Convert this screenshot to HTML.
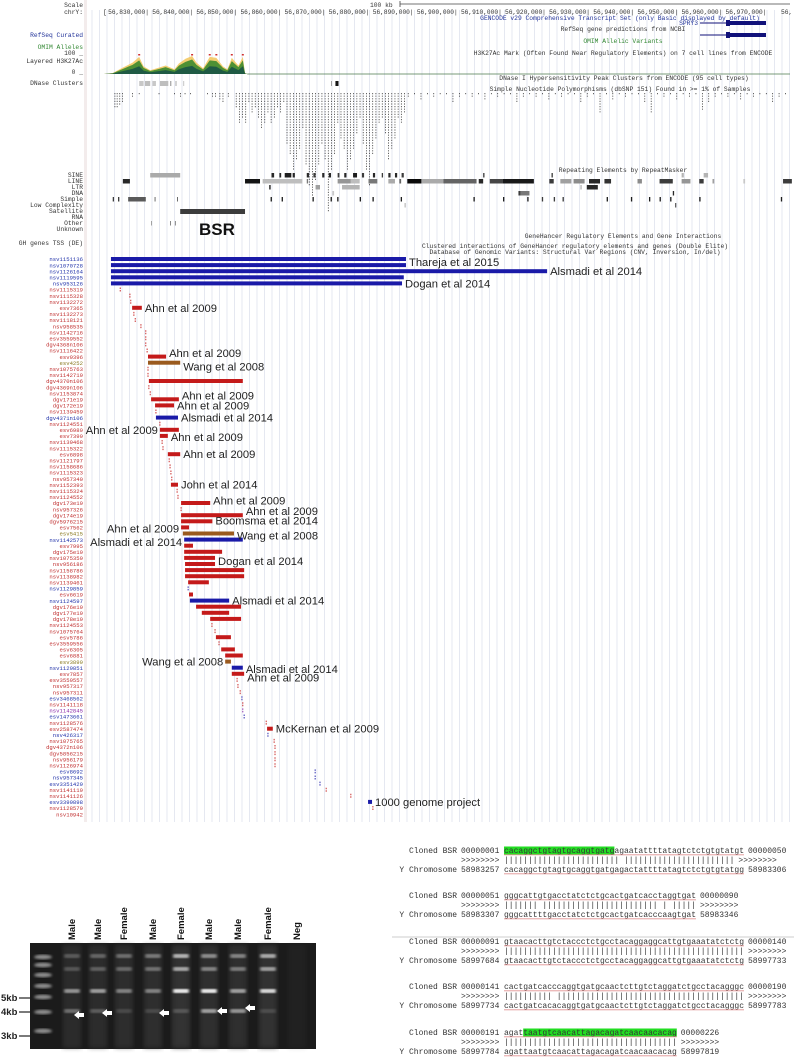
<!DOCTYPE html>
<html><head><meta charset="utf-8"><style>
html,body{margin:0;padding:0;background:#fff;}
svg{display:block;}
.m{font-family:"Liberation Mono",monospace;}
.s{font-family:"Liberation Sans",sans-serif;}
</style></head><body>
<svg id="fig" width="794" height="1059" viewBox="0 0 794 1059" xmlns="http://www.w3.org/2000/svg">
<g id="grid"></g>
<g id="top"></g>
<g id="sv"></g>
<g id="gel"></g>
<g id="aln"></g>
</svg>
<script>
// ---------- data ----------
const rulerTicks = ["56,830,000","56,840,000","56,850,000","56,860,000","56,870,000","56,880,000","56,890,000","56,900,000","56,910,000","56,920,000","56,930,000","56,940,000","56,950,000","56,960,000","56,970,000"];
const svNames = ["nsv1151136","nsv1070728","nsv1126164","nsv1119595","nsv953126","nsv1115319","nsv1115328","nsv1132272","esv7365","nsv1132273","nsv1118121","nsv958535","nsv1142716","esv3559552","dgv4368n106","nsv1116422","esv9396","esv4252","nsv1075763","nsv1142719","dgv4370n106","dgv4369n106","nsv1153874","dgv171e19","dgv172e19","nsv1139459","dgv4371n106","nsv1124551","esv6989","esv7399","nsv1139468","nsv1115322","esv6898","nsv1121797","nsv1158686","nsv1115323","nsv957340","nsv1152393","nsv1115324","nsv1124552","dgv173e19","nsv957326","dgv174e19","dgv5976215","esv7562","esv5415","nsv1142573","esv7995","dgv175e19","nsv1075359","nsv956186","nsv1158786","nsv1138982","nsv1139461","nsv1129859","esv6619","nsv1124597","dgv176e19","dgv177e19","dgv178e19","nsv1124553","nsv1075764","esv5786","esv3559556","esv6305","esv6881","esv3899","nsv1129851","esv7857","esv3559557","nsv957317","nsv957311","esv3468562","nsv1141118","nsv1142845","esv1473661","nsv1128576","esv2587474","nsv426317","nsv1075765","dgv4372n106","dgv5856215","nsv956179","nsv1126974","esv8692","nsv957345","esv3351429","nsv1141119","nsv1141126","esv3399898","nsv1128579","nsv10942"];
const svType = "bbbbbrrrrrrrrrrrrorrrrrrrrbrrrrrrrrrrrrrrrrrrobrrrrrrrbrbrrrrrrrrrobrrrrbrpbrrbrrrrrbbbrrbrr";
const svStart = [21.6,21.6,21.6,21.6,21.6,23.7,25.9,26.1,26.4,26.8,27.1,28.4,29.5,29.5,29.5,29.8,30,30,30,30,30.2,30.2,30.5,30.7,31.6,31.8,31.8,32.7,32.7,32.7,33.2,33.4,34.5,34.8,35.0,35.2,35.4,35.2,36.6,36.8,37.5,37.5,37.5,37.5,37.5,37.9,38.2,38.2,38.2,38.2,38.4,38.4,38.4,39.1,39.1,39.3,39.5,40.9,42.2,44.1,44.5,45.2,45.4,46.1,46.6,47.5,47.5,49.0,49.0,50.2,50.4,50.9,51.3,51.5,51.5,51.8,56.8,57.0,57.2,58.6,58.8,58.8,58.8,58.8,67.9,67.9,69.0,70.4,76.0,79.9,81.0,-1];
const svEnd   = [88.5,88.5,120.5,88.0,87.6,23.7,25.9,26.1,28.6,26.8,27.1,28.4,29.5,29.5,29.5,29.8,34.1,37.3,30,30,51.5,30.2,30.5,37.0,35.9,31.8,36.8,32.7,37.0,34.5,33.2,33.4,37.3,34.8,35.0,35.2,35.4,36.8,36.6,36.8,44.1,37.5,51.5,44.6,39.3,49.5,51.5,40.2,46.8,45.2,45.2,51.8,51.8,43.8,39.1,40.2,48.4,51.1,48.4,51.1,44.5,45.2,48.8,46.1,49.7,51.5,48.8,51.5,51.8,50.2,50.4,50.9,51.3,51.5,51.5,51.8,56.8,58.3,57.2,58.6,58.8,58.8,58.8,58.8,67.9,67.9,69.0,70.4,76.0,80.8,81.0,-1];
const studyText = ["Thareja et al 2015","Alsmadi et al 2014","Dogan et al 2014","Ahn et al 2009","Ahn et al 2009","Wang et al 2008","Ahn et al 2009","Ahn et al 2009","Alsmadi et al 2014","Ahn et al 2009","Ahn et al 2009","Ahn et al 2009","John et al 2014","Ahn et al 2009","Ahn et al 2009","Boomsma et al 2014","Ahn et al 2009","Wang et al 2008","Alsmadi et al 2014","Dogan et al 2014","Alsmadi et al 2014","Wang et al 2008","Alsmadi et al 2014","Ahn et al 2009","McKernan et al 2009","1000 genome project"];
const studyRow       = [0.5,2,4,8,15.4,17.6,22.4,24,26,28,29.2,32,37,39.6,41.3,42.9,44.2,45.3,46.4,49.5,56,66,67.2,68.6,77,89];
const studyAnchorRow = [0,2,4,8,16,17,23,24,26,28,29,32,37,40,42,43,44,45,46,49,56,66,67,68,77,89];
const studySide = "rrrrrrrrrlrrrrrrlrlrrlrrrr";
const peakKb  = [22,24,26.5,28,29,30.5,32,34,36,37,38.5,40,41,42.5,44,45.5,47,48,49,50.5,51.5,52];
const peakVal = [5,30,60,90,40,20,30,45,25,55,80,95,60,30,90,85,40,25,85,45,90,5];
const snpSparseKb = [22.5,23,23.6,24.2,26.5,28,32.5,36,37.4,38.4,39.6,43.5,44.6,45.3,46.3,47,48.2];
const snpSparseDepth = [6,6,5,4,2,1,1,1,2,1,1,1,2,2,3,4,2];
const snpDenseDepth = [6,12,10,12,4,8,6,10,14,12,8,12,10,6,8,4,20,24,30,26,22,14,28,36,40,34,28,20,26,46,30,24,12,18,22,30,26,22,16,10,20,30,36,24,18,12,10,16,26,22,18,10,12,8];
const repeatRows = ["SINE","LINE","LTR","DNA","Simple","Low Complexity","Satellite","RNA","Other","Unknown"];
const repeats = [[0,30.5,37.3,170],[0,58,58.6,40],[0,59.8,60.2,40],[0,61,62.5,30],[0,62.8,63.3,40],[0,66,66.5,40],[0,67.5,68,60],[0,69.5,70,40],[0,71,71.5,40],[0,73,73.4,60],[0,74.5,75,40],[0,76.5,77.4,30],[0,78.5,79,60],[0,81,81.5,40],[0,83,83.3,60],[0,84.5,85,40],[0,86,86.5,40],[0,87.5,88,60],[0,106,106.3,60],[0,121.5,121.8,60],[0,151,151.5,180],[0,156,157,180],
[1,24.3,25.9,40],[1,52,55.4,20],[1,56,65,190],[1,66,66.3,120],[1,73,76,150],[1,76,78,190],[1,80,82,120],[1,84.5,86,170],[1,87,87.4,100],[1,88.8,92,10],[1,92,97,170],[1,97,104.5,100],[1,105,106,40],[1,107.5,110.5,70],[1,110.5,117.5,25],[1,121,122,60],[1,123.5,126,160],[1,126.5,129,140],[1,130,132.5,40],[1,133.5,135,50],[1,141,142,140],[1,146,149,60],[1,151,153,150],[1,155,156,60],[1,158,158.4,160],[1,165,165.4,200],[1,174,176,60],
[2,57.5,57.8,20],[2,68,69,160],[2,74,78,180],[2,129.5,132,40],[2,128,128.4,200],
[3,71.8,72.2,200],[3,114,114.5,60],[3,114.5,116.5,120],[3,149,149.3,40],
[4,22,22.3,60],[4,23.2,23.5,60],[4,25.5,29.5,90],[4,31.5,31.7,90],[4,36.6,36.8,90],[4,57.8,58.1,30],[4,60.3,60.6,30],[4,67.3,67.6,30],[4,71.4,71.7,30],[4,72.9,73.2,30],[4,78,78.3,30],[4,80.9,81.2,30],[4,87.3,87.6,30],[4,103.8,104.1,30],[4,110.5,110.8,30],[4,116,116.3,30],[4,119.3,119.6,60],[4,122,122.3,60],[4,124,124.3,60],[4,134,134.3,30],[4,139.5,139.8,30],[4,143.6,143.9,30],[4,146,146.3,30],[4,148.4,148.7,30],[4,155,155.3,30],[4,173.5,173.8,30],
[5,88.2,88.4,160],[5,149.5,149.8,100],
[6,37.3,52,60],
[8,30.7,30.9,150],[8,35,35.2,120],[8,36.1,36.3,120]];

// ---------- helpers ----------
const NS="http://www.w3.org/2000/svg";
function X(kb){return 148+(kb-30)*4.41;}
const ROW0=259, ROWH=6.1;
function Y(r){return ROW0+r*ROWH;}
function mk(parent,tag,attrs,text){const e=document.createElementNS(NS,tag);for(const k in attrs)e.setAttribute(k,attrs[k]);if(text!==undefined)e.textContent=text;document.getElementById(parent).appendChild(e);return e;}

// ---------- grid ----------
for(let x=92;x<792;x+=7.5){
  const l=mk('grid','line',{x1:x,y1:10,x2:x,y2:822,stroke:'#dfe2ee','stroke-width':0.8});
  
  
}
{const r=mk('grid','rect',{x:84,y:0,width:3,height:822,fill:'#f3ecec'});}

// ---------- top tracks ----------
function lbl(txt,y,color,anchor,x,size,name){
  const t=mk('top','text',{x:x===undefined?83:x,y:y,'font-size':size||6.3,fill:color||'#333','text-anchor':anchor||'end',class:'m'},txt);
  
  
  return t;
}
lbl('Scale',7,'#333','end',83,6.3,'scale-label');
lbl('chrY:',14,'#333','end',83,6.3,'chrom-label');
lbl('100 kb',7,'#333','start',370,6.3,'scale-text');
{const l=mk('top','line',{x1:400,y1:4,x2:790,y2:4,stroke:'#444','stroke-width':0.8});
 const l2=mk('top','line',{x1:400,y1:1,x2:400,y2:7,stroke:'#444','stroke-width':0.8});}
lbl('[',14,'#333','start',103,6.3,'ruler-bracket');
rulerTicks.forEach((t,i)=>{
  lbl(t+'|',14,'#333','end',X(30+i*10)+1,6.2,'ruler-tick-label');
});
lbl('56,',14,'#333','start',781,6.3,'ruler-tick-label');
lbl('RefSeq Curated',37,'#223399','end',83,6.3,'refseq-curated-label');
lbl('OMIM Alleles',49,'#338833','end',83,6.3,'omim-alleles-label');
lbl('100 _',55,'#333','end',83,6.3,'h3k27ac-max');
lbl('Layered H3K27Ac',63,'#333','end',83,6.3,'h3k27ac-label');
lbl('0 _',74,'#333','end',83,6.3,'h3k27ac-min');
lbl('DNase Clusters',85,'#333','end',83,6.3,'dnase-label');
repeatRows.forEach((r,i)=>lbl(r,177+i*6,'#333','end',83,6.3,'repeat-class-label'));
lbl('GH genes TSS (DE)',245,'#333','end',83,6.3,'gh-genes-label');
lbl('GENCODE v29 Comprehensive Transcript Set (only Basic displayed by default)',20,'#223399','middle',620,6.3,'gencode-title');
lbl('SPRY3',25,'#223399','end',698,6.3,'spry3-label');
lbl('RefSeq gene predictions from NCBI',31,'#333','middle',623,6.3,'refseq-title');
lbl('OMIM Allelic Variants',43,'#338833','middle',623,6.3,'omim-title');
lbl('H3K27Ac Mark (Often Found Near Regulatory Elements) on 7 cell lines from ENCODE',55,'#333','middle',623,6.3,'h3k27ac-title');
lbl('DNase I Hypersensitivity Peak Clusters from ENCODE (95 cell types)',80,'#333','middle',624,6.3,'dnase-title');
lbl('Simple Nucleotide Polymorphisms (dbSNP 151) Found in >= 1% of Samples',91,'#333','middle',620,6.3,'snp-title');
lbl('Repeating Elements by RepeatMasker',172,'#333','middle',623,6.3,'repeat-title');
lbl('GeneHancer Regulatory Elements and Gene Interactions',238,'#333','middle',623,6.3,'genehancer-title');
lbl('Clustered interactions of GeneHancer regulatory elements and genes (Double Elite)',248,'#333','middle',575,6.3,'clustered-title');
lbl('Database of Genomic Variants: Structural Var Regions (CNV, Inversion, In/del)',254,'#333','middle',575,6.3,'dgv-title');
[23,35].forEach(y=>{
  const l=mk('top','line',{x1:700,y1:y,x2:766,y2:y,stroke:'#11117a','stroke-width':1});
  const r=mk('top','rect',{x:728,y:y-2,width:38,height:4,fill:'#11117a'});
  const r2=mk('top','rect',{x:726,y:y-3,width:4,height:6,fill:'#11117a'});
});
{
  const base=74, h=19;
  let d=`M${X(20)},${base}`;
  peakKb.forEach((k,i)=>{d+=` L${X(k)},${base-peakVal[i]/100*h}`;});
  d+=` L${X(52.5)},${base} Z`;
  const pY=mk('top','path',{d:d,fill:'#f2c65a',opacity:0.85});
  let d2=`M${X(20)},${base}`;
  peakKb.forEach((k,i)=>{d2+=` L${X(k)},${base-peakVal[i]/100*h*0.8}`;});
  d2+=` L${X(52.5)},${base} Z`;
  const pG=mk('top','path',{d:d2,fill:'#3c8a2e',opacity:0.9});
  let d3=`M${X(20)},${base}`;
  peakKb.forEach((k,i)=>{d3+=` L${X(k)},${base-peakVal[i]/100*h*0.45}`;});
  d3+=` L${X(52.5)},${base} Z`;
  const pB=mk('top','path',{d:d3,fill:'#1f5a44'});
  peakKb.forEach((k,i)=>{if(peakVal[i]>=85){const c=mk('top','rect',{x:X(k)-1,y:base-h-1,width:2,height:1.5,fill:'#d03030'});}});
  const bl=mk('top','line',{x1:X(52.5),y1:base,x2:790,y2:base,stroke:'#4d7a4d','stroke-width':0.8});
}
[[28,29,200],[29.3,30.5,190],[31,31.8,200],[32.7,34.6,190],[35,35.3,170],[36.2,36.5,190],[38,38.2,190],[71.5,71.7,150],[72.5,73.2,20]].forEach(d=>{
  const r=mk('top','rect',{x:X(d[0]),y:81,width:Math.max(0.7,X(d[1])-X(d[0])),height:5,fill:`rgb(${d[2]},${d[2]},${d[2]})`});
  
});
function snpCol(kb,depth){
  const l=mk('top','line',{x1:X(kb),y1:93,x2:X(kb),y2:93+depth*2.6,stroke:'#222','stroke-width':0.7,'stroke-dasharray':'1.2,1.4'});
  
}
snpSparseKb.forEach((k,i)=>snpCol(k,snpSparseDepth[i]));
snpDenseDepth.forEach((d,i)=>snpCol(50+i*0.72,d));
for(let i=0;i<60;i++){const k=89+i*1.45;const d=[2,1,3,1,2,1,1,4,2,1][i%10]+((i===30||i===38||i===46)?6:0);snpCol(k,d);}
repeats.forEach(r=>{
  const rc=mk('top','rect',{x:X(r[1]),y:173+r[0]*6,width:Math.max(0.8,X(r[2])-X(r[1])),height:r[0]===6?5:4.5,fill:`rgb(${r[3]},${r[3]},${r[3]})`});
  
});
{const t=mk('top','text',{x:199,y:235,'font-size':17,'font-weight':'bold',fill:'#111',class:'s'},'BSR');}

// ---------- SV track ----------
const colors={b:'#1a1aa8',r:'#c41a1a',o:'#9a5a1e',p:'#8a2aa8'};
const lblColors={b:'#2233aa',r:'#c03030',o:'#8a7a20',p:'#8a2aa8'};
svNames.forEach((n,i)=>{
  const t=mk('sv','text',{x:83,y:Y(i)+2.2,'font-size':5.6,fill:lblColors[svType[i]],'text-anchor':'end',class:'m'},n);
  
  
  if(svStart[i]<0)return;
  const w=X(svEnd[i])-X(svStart[i]);
  if(w<1.5){
    const l=mk('sv','line',{x1:X(svStart[i]),y1:Y(i)-2,x2:X(svStart[i]),y2:Y(i)+2,stroke:colors[svType[i]],'stroke-width':0.9,'stroke-dasharray':'1.5,1'});
    
    
  }else{
    const r=mk('sv','rect',{x:X(svStart[i]),y:Y(i)-2,width:w,height:4,fill:colors[svType[i]]});
    
    
  }
});
studyText.forEach((s,j)=>{
  const a=studyAnchorRow[j];
  const side=studySide[j];
  const y=Y(studyRow[j])+4;
  const x= side==='r' ? X(svEnd[a])+3 : X(svStart[a])-2;
  const t=mk('sv','text',{x:x,y:y,'font-size':11.2,fill:'#222','text-anchor':side==='r'?'start':'end',class:'s'},s);
  
  
});

// ---------- gel ----------
const laneNames=["Male","Male","Female","Male","Female","Male","Male","Female","Neg"];
const laneX=[72,98,124,153,181,209,238,268,297];
const bandTop=[0.25,0.3,0.35,0.4,0.7,0.5,0.45,0.65,0];
const band5=[0.55,0.6,0.45,0.45,1,1,0.6,0.9,0];
const band4=[0.35,0.25,0.15,0.15,0.2,0.6,0.55,0.15,0];
{
  const defs=mk('gel','defs',{});
  defs.innerHTML='<filter id="blur"><feGaussianBlur stdDeviation="1.2"/></filter><filter id="blur2"><feGaussianBlur stdDeviation="2.5"/></filter>';
  const bg=mk('gel','rect',{x:30,y:943,width:286,height:106,fill:'#1b1b1b'});
  
  [957,965,975,986,997,1012,1031].forEach((y,i)=>{
    const e=mk('gel','ellipse',{cx:43,cy:y,rx:9,ry:2.2,fill:'#bbb',opacity:0.75,filter:'url(#blur)'});
    
  });
  laneX.forEach((cx,i)=>{
    const lr=mk('gel','rect',{x:cx-9,y:945,width:18,height:103,fill:'#3a3a3a',opacity:i===8?0.2:(0.4+bandTop[i]*0.5),filter:'url(#blur2)'});
    
    [[956,bandTop[i]],[969,bandTop[i]*0.9],[991,band5[i]],[1011,band4[i]]].forEach(b=>{
      if(b[1]<=0)return;
      const e=mk('gel','rect',{x:cx-8,y:b[0]-2,width:16,height:4,rx:2,fill:'#fff',opacity:b[1],filter:'url(#blur)'});
      
    });
    const t=mk('gel','text',{x:0,y:0,'font-size':9.5,fill:'#111','font-weight':'bold',class:'s',transform:`translate(${cx+3},940) rotate(-90)`},laneNames[i]);
    
  });
  [[79,1015],[107,1013],[164,1013],[222,1011],[250,1008]].forEach(a=>{
    const p=mk('gel','path',{d:`M${a[0]-5},${a[1]} L${a[0]},${a[1]-4} L${a[0]},${a[1]-2} L${a[0]+5},${a[1]-2} L${a[0]+5},${a[1]+2} L${a[0]},${a[1]+2} L${a[0]},${a[1]+4} Z`,fill:'#fff'});
    
  });
  [["5kb",998],["4kb",1012],["3kb",1036]].forEach(m=>{
    const t=mk('gel','text',{x:1,y:m[1]+3,'font-size':9.5,'font-weight':'bold',fill:'#222',class:'s'},m[0]);
    
    const l=mk('gel','line',{x1:19,y1:m[1],x2:30,y2:m[1],stroke:'#222','stroke-width':1.2});
    
  });
}

// ---------- alignment ----------
const alnBlocks=[
 ["00000001","cacaggctgtagtgcaggtgatgagaatattttatagtctctgtgtatgt","00000050","|||||||||||||||||||||||| |||||||||||||||||||||||","58983257","cacaggctgtagtgcaggtgatgagactattttatagtctctgtgtatgg","58983306",853,0,23],
 ["00000051","gggcattgtgacctatctctgcactgatcacctaggtgat","00000090","||||||| |||||||||||||||||||||||| | |||||","58983307","gggcattttgacctatctctgcactgatcacccaagtgat","58983346",898,0,0],
 ["00000091","gtaacacttgtctaccctctgcctacaggaggcattgtgaaatatctctg","00000140","||||||||||||||||||||||||||||||||||||||||||||||||||","58997684","gtaacacttgtctaccctctgcctacaggaggcattgtgaaatatctctg","58997733",944,0,0],
 ["00000141","cactgatcacccaggtgatgcaactcttgtctaggatctgcctacagggc","00000190","|||||||||| |||||||||||||||||||||||||||||||||||||||","58997734","cactgatcacacaggtgatgcaactcttgtctaggatctgcctacagggc","58997783",989,0,0],
 ["00000191","agattaatgtcaacattagacagatcaacaacacag","00000226","||||||||||||||||||||||||||||||||||||","58997784","agattaatgtcaacattagacagatcaacaacacag","58997819",1035,4,36]
];
const CW=4.8;
{
  const sep=mk('aln','line',{x1:392,y1:937,x2:794,y2:937,stroke:'#ccc','stroke-width':1});
  
}
alnBlocks.forEach(b=>{
  const y=b[7];
  if(b[9]>b[8]){
    const h=mk('aln','rect',{x:504+b[8]*CW,y:y-6.5,width:(b[9]-b[8])*CW,height:8,fill:'#22dd22'});
    
  }
  const rows=[["Cloned BSR",b[0],b[1],b[2],y],["",">>>>>>>>",b[3],">>>>>>>>",y+9.5],["Y Chromosome",b[4],b[5],b[6],y+19]];
  rows.forEach((r,k)=>{
    const a=mk('aln','text',{x:457,y:r[4],'font-size':8,fill:'#333','text-anchor':'end',class:'m'},r[0]);
    
    const c=mk('aln','text',{x:461,y:r[4],'font-size':8,fill:'#333',class:'m',textLength:8*CW,lengthAdjust:'spacingAndGlyphs'},r[1]);
    
    const s=mk('aln','text',{x:504,y:r[4],'font-size':8,fill:'#333',class:'m',textLength:r[2].length*CW,lengthAdjust:'spacingAndGlyphs'},r[2]);
    
    if(k!==1){
      const u=mk('aln','line',{x1:504,y1:r[4]+1.8,x2:504+r[2].length*CW,y2:r[4]+1.8,stroke:'#e09090','stroke-width':0.8});
      
    }
    const e=mk('aln','text',{x:504+r[2].length*CW+4,y:r[4],'font-size':8,fill:'#333',class:'m',textLength:8*CW,lengthAdjust:'spacingAndGlyphs'},r[3]);
    
  });
});
</script>
</body></html>
